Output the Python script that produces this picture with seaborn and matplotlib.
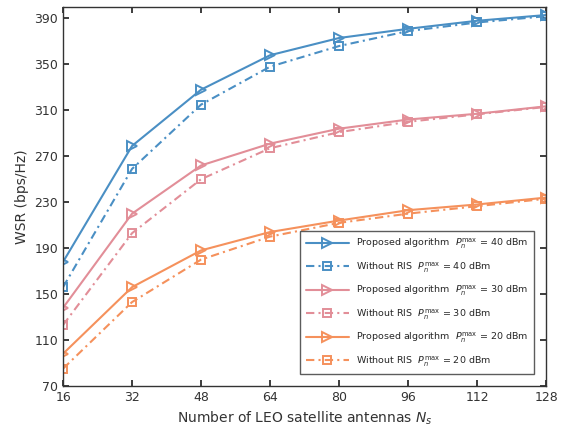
import matplotlib
matplotlib.use("Agg")
import matplotlib.pyplot as plt
import seaborn as sns
import pandas as pd

antennas = [16, 32, 48, 64, 80, 96, 112, 128]
prop_40 = [178, 279, 328, 358, 373, 381, 388, 393]
wo_40 = [156, 259, 315, 348, 366, 379, 386.5, 392]
prop_30 = [138, 220, 262, 281, 294, 302, 307, 313.5]
wo_30 = [123, 203, 250, 277, 291, 300, 306.5, 313]
prop_20 = [98, 156, 188, 204, 214, 223, 228, 234]
wo_20 = [85, 143, 180, 200, 212, 220, 226.5, 233]

labels = [
    r"Proposed algorithm  $P_n^{\rm max}$ = 40 dBm",
    r"Without RIS  $P_n^{\rm max}$ = 40 dBm",
    r"Proposed algorithm  $P_n^{\rm max}$ = 30 dBm",
    r"Without RIS  $P_n^{\rm max}$ = 30 dBm",
    r"Proposed algorithm  $P_n^{\rm max}$ = 20 dBm",
    r"Without RIS  $P_n^{\rm max}$ = 20 dBm",
]
series = [prop_40, wo_40, prop_30, wo_30, prop_20, wo_20]
colors = ["#4a8fc4", "#4a8fc4", "#e28e98", "#e28e98", "#f5915c", "#f5915c"]

sns.set_theme(style="ticks")
plt.rcParams["font.family"] = ["DejaVu Sans"]

fig = plt.figure(figsize=(5.63, 4.37), dpi=100)
ax = fig.add_axes([0.112, 0.117, 0.858, 0.867])

for i, (vals, lab, col) in enumerate(zip(series, labels, colors)):
    df = pd.DataFrame({"N": antennas, "WSR": vals})
    proposed = i % 2 == 0
    sns.lineplot(data=df, x="N", y="WSR", ax=ax, color=col, label=lab,
                 marker=">" if proposed else "s",
                 markersize=7.5 if proposed else 5.5,
                 markerfacecolor="none", markeredgecolor=col,
                 markeredgewidth=1.4, linewidth=1.5,
                 linestyle="-" if proposed else (0, (4, 2, 1, 2)))

ax.set_xlim(16, 128)
ax.set_ylim(70, 400)
ax.set_xticks(antennas)
ax.set_yticks(list(range(70, 391, 40)))
ax.tick_params(direction="in", top=True, right=True, labelsize=9, length=4,
               labelcolor="#333333")
ax.set_xlabel(r"Number of LEO satellite antennas $N_s$", fontsize=10, color="#333333")
ax.set_ylabel("WSR (bps/Hz)", fontsize=10, color="#333333")
for s in ax.spines.values():
    s.set_linewidth(1.0)
    s.set_color("#333333")

leg = ax.legend(loc="lower right", fontsize=6.8, frameon=True, fancybox=False,
                edgecolor="#333333", handlelength=4.5, borderpad=0.6,
                labelspacing=0.95, bbox_to_anchor=(0.985, 0.018))
leg.get_frame().set_linewidth(1.0)

fig.savefig("out.png", dpi=100)
